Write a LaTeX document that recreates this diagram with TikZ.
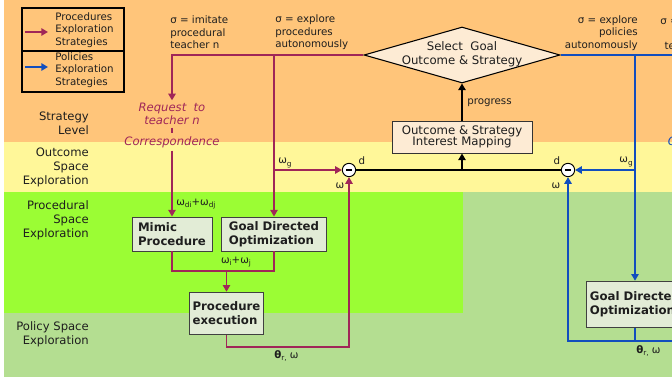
\documentclass[tikz,border=0pt]{standalone}
\usepackage{fontspec}
\setmainfont{DejaVu Sans}
\usetikzlibrary{arrows.meta,shapes.geometric}
\definecolor{bandorange}{RGB}{255,197,122}
\definecolor{bandyellow}{RGB}{255,247,153}
\definecolor{bandgreen}{RGB}{155,253,52}
\definecolor{bandpolicy}{RGB}{180,222,145}
\definecolor{procred}{RGB}{160,38,88}
\definecolor{polblue}{RGB}{18,78,190}
\definecolor{boxfill}{RGB}{226,236,214}
\definecolor{selfill}{RGB}{253,235,212}
\definecolor{inktext}{RGB}{30,30,30}
\newcommand{\lowsub}[1]{\raisebox{-0.4ex}{\fontsize{5.5}{6}\selectfont #1}}
\begin{document}
\begin{tikzpicture}[x=0.75pt,y=-0.75pt,text=inktext,
    lab/.style={inner sep=0pt,align=left,font=\fontsize{7.7}{9.4}\selectfont},
    level/.style={inner sep=0pt,align=right,anchor=east,font=\fontsize{8.7}{10.5}\selectfont},
    proc/.style={draw=procred,line width=1.3pt},
    pol/.style={draw=polblue,line width=1.3pt},
    tip/.style={-{Triangle[length=5pt,width=5.5pt]}},
    algbox/.style={draw=black!75,fill=boxfill,line width=0.7pt,align=left,inner sep=2pt,
      font=\fontsize{8.8}{10.5}\selectfont\bfseries},
    mapbox/.style={draw=black!80,fill=selfill,line width=0.7pt,align=center,
      minimum width=105pt,minimum height=24pt,inner sep=1pt,font=\fontsize{8.8}{8.6}\selectfont},
    teach/.style={inner sep=2pt,align=center,font=\fontsize{8.7}{9.6}\selectfont\itshape},
    minus/.style={circle,draw,fill=white,line width=0.7pt,minimum size=10pt,inner sep=0pt,
      path picture={\draw[line width=1.5pt] ([xshift=-2.3pt]path picture bounding box.center)
        -- ([xshift=2.3pt]path picture bounding box.center);}}]
  \useasboundingbox (0,0) rectangle (672,381);
  \clip (0,0) rectangle (672,381);
  % levels
  \fill[bandorange] (4,0) rectangle (672,142);
  \fill[bandyellow] (4,142) rectangle (672,192);
  \fill[bandpolicy] (4,192) rectangle (672,377);
  \fill[bandgreen] (4,192) rectangle (463,313);
  \node[level] at (89,123.5) {Strategy\\Level};
  \node[level] at (89,167) {Outcome\\Space\\Exploration};
  \node[level] at (89,220) {Procedural\\Space\\Exploration};
  \node[level] at (89,334) {Policy Space\\Exploration};
  % legend
  \draw[line width=0.8pt] (22,8) rectangle (124,92) (22,51) -- (124,51);
  \coordinate (legP) at (25,32);
  \coordinate (legB) at (25,67);
  \draw[proc,tip] (legP) -- ++(23,0);
  \draw[pol,tip] (legB) -- ++(23,0);
  \node[lab,anchor=west] at (55,30) {Procedures\\Exploration\\Strategies};
  \node[lab,anchor=west] at (55,70) {Policies\\Exploration\\Strategies};
  % strategy choices
  \node[lab,anchor=west] at (170,32.5) {σ = imitate\\procedural\\teacher n};
  \node[lab,anchor=west] at (275,32.5) {σ = explore\\procedures\\autonomously};
  \node[lab,anchor=east,align=right] at (638,33) {σ = explore\\policies\\autonomously};
  \node[lab,align=center,anchor=west] at (660,33) {σ = imitate\\policy\\teacher n};
  \node[diamond,draw,fill=selfill,line width=0.8pt,minimum width=147pt,minimum height=42pt,
    inner sep=0pt] (select) at (462,55) {};
  \node[inner sep=0pt,align=center,font=\fontsize{8.8}{10.7}\selectfont] (selectText) at (462,54)
    {Select~ Goal\\Outcome \& Strategy};
  \node[mapbox] (mapping) at (462,137) {Outcome \& Strategy\\Interest Mapping};
  \draw[line width=1.3pt,tip] (mapping.north) -- (select.south);
  \node[lab,anchor=west] at (467,103) {progress};
  % procedures side
  \node[teach,text=procred] (request) at (172,114) {Request~ to\\teacher n};
  \node[teach,text=procred] (corresp) at (172,142) {Correspondence};
  \node[teach,text=polblue,anchor=west] at (665,142) {Correspondence};
  \node[algbox,minimum width=60pt,minimum height=25.5pt] (mimic) at (172,234) {Mimic\\Procedure};
  \node[algbox,minimum width=78.75pt,minimum height=25.5pt] (gdoP) at (274,234) {Goal Directed\\Optimization};
  \node[algbox,minimum width=56pt,minimum height=32pt] (exec) at (226.5,313.5) {Procedure\\execution};
  \node[minus] (minusP) at (349,170) {};
  % policies side
  \node[algbox,minimum width=73.5pt,minimum height=35pt] (gdoB) at (635,304.5) {Goal Directed\\Optimization};
  \node[minus] (minusB) at (568,170) {};
  % procedures connectors
  \draw[proc,tip] (select.west) -| (request.north);
  \draw[proc] (request.south) -- (corresp.north);
  \draw[proc,tip] (corresp.south) -- (mimic.north);
  \coordinate (brA) at (gdoP.north |- select.west);
  \coordinate (brB) at (gdoP.north |- minusP);
  \draw[proc,tip] (brA) -- (gdoP.north);
  \draw[proc,tip] (brB) -- (minusP.west);
  \coordinate (join) at (exec.north |- 0,271);
  \draw[proc] (mimic.south) |- (join) -| (gdoP.south);
  \draw[proc,tip] (join) -- (exec.north);
  \coordinate (retP) at (minusP |- 0,347);
  \draw[proc,tip] (exec.south) |- (retP) -- (minusP.south);
  \node[lab,anchor=west] at (176,204) {ω\lowsub{di}+ω\lowsub{dj}};
  \node[lab] at (236,262) {ω\lowsub{i}+ω\lowsub{j}};
  \node[lab,anchor=west] at (278,163) {ω\lowsub{g}};
  \node[lab,anchor=west] at (274,356) {\textbf{θ}\lowsub{r,} ω};
  % distance to goal
  \draw[line width=1.3pt] (minusP.east) -- (minusB.west);
  \draw[line width=1.3pt,tip] (mapping.south |- minusP) -- (mapping.south);
  \node[lab] at (362,161) {d};
  \node[lab] at (340,186) {ω};
  \node[lab] at (557,161) {d};
  \node[lab] at (556,186) {ω};
  % policies connectors
  \coordinate (polOut) at (690,55);
  \coordinate (brC) at (gdoB.north |- select.east);
  \draw[pol] (select.east) -- (polOut);
  \draw[pol,tip] (brC) -- (gdoB.north);
  \draw[pol,tip] (gdoB.north |- minusB) -- (minusB.east);
  \coordinate (retB) at (minusB |- 0,341);
  \coordinate (retBout) at (690,341);
  \draw[pol] (gdoB.south) -- (gdoB.south |- retB);
  \draw[pol,tip] (retBout) -- (retB) -- (minusB.south);
  \node[lab,anchor=east] at (633,162) {ω\lowsub{g}};
  \node[lab,anchor=west] at (636,351) {\textbf{θ}\lowsub{r,} ω};
\end{tikzpicture}
\end{document}
